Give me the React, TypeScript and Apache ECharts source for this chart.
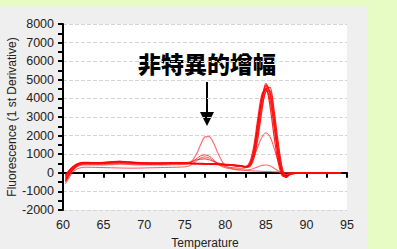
import React, { useEffect, useRef } from "react";
import * as echarts from "echarts";

const temps = [60.3, 61, 61.5, 62, 62.5, 63, 64, 65, 66, 67, 68, 69, 70, 71, 72, 73, 74, 75, 75.5, 76, 76.5, 77, 77.5, 78, 78.5, 79, 79.5, 80, 81, 82, 82.5, 83, 83.5, 84, 84.5, 85, 85.5, 86, 86.5, 87, 87.5, 88, 89, 90, 91, 92, 93, 94.2];

const main1 = [-200, 200, 380, 500, 540, 540, 530, 540, 580, 600, 570, 540, 520, 510, 510, 520, 530, 520, 510, 500, 500, 490, 490, 480, 470, 460, 450, 440, 410, 360, 320, 400, 1000, 2300, 3800, 4700, 4300, 2900, 1200, 50, -220, -60, 0, 0, 0, 0, 0, 0];
const main2 = [-350, 100, 320, 460, 500, 510, 500, 510, 550, 570, 540, 510, 500, 490, 490, 500, 510, 500, 490, 490, 480, 480, 470, 470, 460, 450, 440, 420, 390, 340, 300, 330, 750, 1800, 3300, 4500, 4600, 3400, 1700, 300, -200, -100, 0, 0, 0, 0, 0, 0];
const main3 = [-100, 250, 420, 520, 560, 560, 550, 560, 600, 620, 590, 560, 540, 530, 530, 540, 550, 540, 530, 520, 510, 510, 500, 500, 490, 480, 470, 460, 430, 380, 350, 550, 1400, 2900, 4200, 4550, 3600, 2000, 600, -150, -200, -20, 0, 0, 0, 0, 0, 0];
const main4 = [-450, 50, 300, 450, 490, 500, 490, 500, 530, 550, 530, 500, 480, 480, 480, 490, 500, 490, 490, 480, 480, 470, 470, 460, 450, 440, 430, 420, 390, 340, 310, 420, 1050, 2400, 3900, 4800, 4350, 2900, 1150, 20, -250, -70, 0, 0, 0, 0, 0, 0];
const main5 = [-300, 150, 350, 480, 520, 520, 510, 520, 560, 580, 550, 520, 510, 500, 500, 510, 520, 510, 500, 500, 490, 490, 480, 480, 470, 460, 450, 430, 400, 350, 310, 360, 850, 2000, 3500, 4350, 4400, 3200, 1500, 200, -200, -80, 0, 0, 0, 0, 0, 0];
const main6 = [-250, 150, 360, 480, 520, 530, 520, 530, 560, 580, 550, 520, 510, 500, 500, 510, 520, 530, 560, 620, 700, 740, 750, 700, 620, 540, 480, 440, 400, 350, 320, 400, 980, 2250, 3750, 4650, 4250, 2850, 1150, 30, -230, -60, 0, 0, 0, 0, 0, 0];
const main7 = [-150, 220, 400, 510, 550, 550, 540, 550, 590, 610, 580, 550, 530, 520, 520, 530, 540, 530, 520, 510, 500, 500, 490, 490, 480, 470, 460, 450, 420, 370, 330, 450, 1150, 2600, 4000, 4500, 3950, 2500, 900, -50, -230, -40, 0, 0, 0, 0, 0, 0];
const nonSpec1 = [-500, 0, 250, 380, 420, 430, 430, 420, 440, 460, 450, 430, 420, 420, 420, 430, 440, 460, 520, 700, 1050, 1550, 1930, 1950, 1650, 1150, 700, 380, 200, 150, 150, 170, 230, 320, 400, 420, 380, 250, 100, -30, -80, -20, 0, 0, 0, 0, 0, 0];
const nonSpec2 = [-400, 50, 280, 400, 450, 460, 450, 450, 480, 500, 480, 460, 450, 450, 450, 460, 470, 480, 520, 620, 780, 920, 960, 900, 720, 520, 400, 330, 270, 240, 260, 400, 800, 1400, 1900, 2150, 1950, 1350, 650, 150, -120, -40, 0, 0, 0, 0, 0, 0];
const nonSpec3 = [-600, -100, 150, 250, 290, 300, 290, 280, 270, 260, 250, 250, 260, 270, 280, 290, 300, 320, 360, 480, 650, 800, 850, 800, 650, 480, 350, 270, 200, 150, 130, 110, 100, 90, 80, 70, 60, 50, 40, 30, 20, 10, 0, 0, 0, 0, 0, 0];

const annotation = "非特異的增幅";
const xName = "Temperature";
const yName = "Fluorescence (1 st Derivative)";

export default function App() {
  const ref = useRef<HTMLDivElement>(null);
  useEffect(() => {
    const chart = echarts.init(ref.current!, null, { renderer: "svg" });
    const mk = (vals: number[], color: string, width: number, opacity: number) => ({
      type: "line",
      data: temps.map((t, i) => [t, vals[i]]),
      showSymbol: false,
      smooth: 0.3,
      silent: true,
      lineStyle: { color, width, opacity },
    });
    const font = "Liberation Sans";
    chart.setOption({
      animation: false,
      backgroundColor: "transparent",
      grid: {
        left: 63,
        top: 24,
        width: 284,
        height: 186,
        show: true,
        containLabel: false,
        outerBoundsMode: "none",
        backgroundColor: "#ffffff",
        borderWidth: 0,
      },
      xAxis: {
        type: "value",
        min: 60,
        max: 95,
        interval: 5,
        name: xName,
        nameLocation: "middle",
        nameGap: 27,
        nameMoveOverlap: false,
        nameTextStyle: { fontSize: 12, color: "#222", fontFamily: font },
        axisLine: { lineStyle: { color: "#000", width: 2 } },
        axisTick: { length: 5, lineStyle: { color: "#000", width: 2 } },
        minorTick: { show: true, splitNumber: 2, length: 5, lineStyle: { color: "#000", width: 2 } },
        splitLine: { show: false },
        axisLabel: { fontSize: 12.5, color: "#222", margin: 8, fontFamily: font, formatter: (v: number) => String(v) },
      },
      yAxis: {
        type: "value",
        min: -2000,
        max: 8000,
        interval: 1000,
        name: yName,
        nameLocation: "middle",
        nameGap: 45,
        nameMoveOverlap: false,
        nameTextStyle: { fontSize: 12, color: "#222", fontFamily: font },
        axisLine: { show: true, lineStyle: { color: "#000", width: 2 } },
        axisTick: { show: true, length: 5, lineStyle: { color: "#000", width: 2 } },
        minorTick: { show: true, splitNumber: 2, length: 5, lineStyle: { color: "#000", width: 2 } },
        splitLine: { show: true, lineStyle: { color: "#d4d4d4", type: "dashed", width: 1 } },
        axisLabel: { fontSize: 12.5, color: "#222", margin: 9, fontFamily: font, formatter: (v: number) => String(v) },
      },
      series: [
        mk(nonSpec3, "#ff3030", 1, 0.8),
        mk(nonSpec2, "#ff2020", 1, 0.8),
        mk(nonSpec1, "#ff4040", 1.2, 0.75),
        mk(main1, "#ff0000", 1.2, 0.9),
        mk(main2, "#ff0000", 1.2, 0.85),
        mk(main3, "#ff0000", 1.2, 0.85),
        mk(main4, "#ff0000", 1.2, 0.9),
        mk(main5, "#ff1010", 1.2, 0.8),
        mk(main6, "#ff2020", 1.2, 0.8),
        mk(main7, "#ff0000", 1.2, 0.85),
      ],
      graphic: [
        {
          type: "text",
          x: 207,
          y: 63,
          style: {
            text: annotation,
            fill: "#000",
            fontSize: 23,
            fontWeight: 900,
            fontFamily: "Noto Sans CJK JP",
            textAlign: "center",
            textVerticalAlign: "middle",
          },
        },
        {
          type: "line",
          shape: { x1: 207, y1: 82, x2: 207, y2: 114 },
          style: { stroke: "#000", lineWidth: 2 },
        },
        {
          type: "polygon",
          shape: { points: [[200, 112], [214, 112], [207, 126]] },
          style: { fill: "#000" },
        },
      ],
    });
    return () => chart.dispose();
  }, []);
  return (
    <div style={{ position: "fixed", left: 0, top: 0, width: 397, height: 249, background: "#e7fcc5" }}>
      <div style={{ position: "absolute", left: 0, top: 6, width: 368, height: 243, background: "#efefef" }} />
      <div ref={ref} style={{ position: "absolute", left: 0, top: 0, width: 397, height: 249 }} />
    </div>
  );
}
